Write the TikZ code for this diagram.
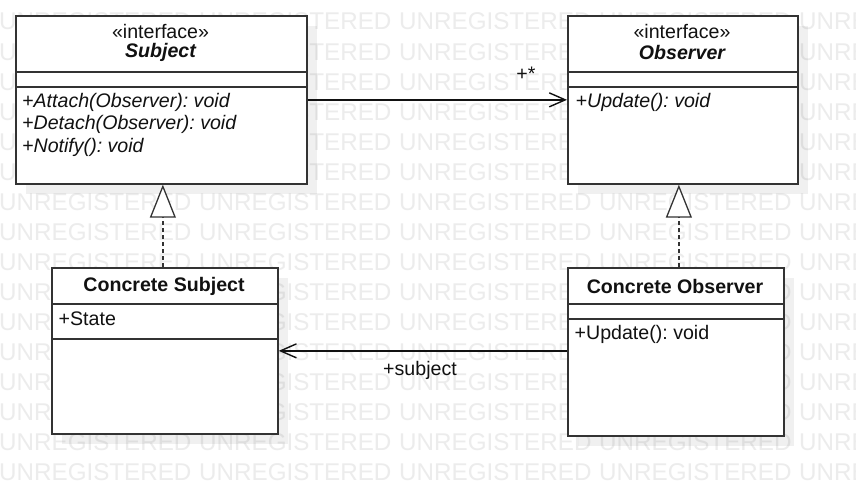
\documentclass[tikz,border=0pt]{standalone}
\usepackage{fontspec}
\setmainfont{Liberation Sans}
\usetikzlibrary{arrows.meta,shadows}
\frenchspacing
\definecolor{wmgray}{gray}{0.925}
\definecolor{edgec}{HTML}{333333}
\definecolor{txtc}{HTML}{111111}
\tikzset{
  umlbox/.style={draw=edgec, line width=1.7pt, fill=white, inner sep=0pt,
    anchor=north west,
    drop shadow={shadow xshift=10pt, shadow yshift=-10pt, fill=black, opacity=0.06}},
  divline/.style={draw=edgec, line width=1.5pt},
  umltxt/.style={inner sep=0pt, text=txtc, font=\fontsize{19.6}{22}\selectfont},
  leftxt/.style={umltxt, anchor=west},
  wmtext/.style={inner sep=0pt, anchor=base west, text=wmgray,
    font=\fontsize{24.2}{28}\selectfont},
  assoc/.style={draw=txtc, line width=1.4pt,
    -{Straight Barb[length=16pt, width=14pt, line width=1.4pt]}},
  realize/.style={draw=edgec, line width=1.4pt, dash pattern=on 4pt off 3pt,
    -{Triangle[length=33pt, width=26pt, fill=white, line width=1.3pt]}},
}
\begin{document}
\begin{tikzpicture}[x=1pt, y=-1pt]
  \clip (0,0) rectangle (856,495);
  \fill[white] (0,0) rectangle (856,495);
  % watermark
  \foreach \r in {0,...,15}{
    \foreach \c in {0,...,4}{
      \node[wmtext] (wm-\r-\c) at (200*\c-1, 30+30*\r) {UNREGISTERED};
    }
  }
  % boxes
  \node[umlbox, minimum width=291pt, minimum height=168pt] (subject) at (15,15) {};
  \node[umlbox, minimum width=230pt, minimum height=168pt] (obs) at (567,15) {};
  \node[umlbox, minimum width=226pt, minimum height=166pt] (cs) at (51,267) {};
  \node[umlbox, minimum width=216pt, minimum height=168pt] (co) at (567,267) {};
  % dividers
  \draw[divline] (subject.west |- 0,72) -- (subject.east |- 0,72);
  \draw[divline] (subject.west |- 0,87) -- (subject.east |- 0,87);
  \draw[divline] (obs.west |- 0,72) -- (obs.east |- 0,72);
  \draw[divline] (obs.west |- 0,87) -- (obs.east |- 0,87);
  \draw[divline] (cs.west |- 0,304) -- (cs.east |- 0,304);
  \draw[divline] (cs.west |- 0,339) -- (cs.east |- 0,339);
  \draw[divline] (co.west |- 0,304) -- (co.east |- 0,304);
  \draw[divline] (co.west |- 0,319) -- (co.east |- 0,319);
  % texts
  \node[umltxt] (subj-st) at (160.5,31) {«interface»};
  \node[umltxt, font=\fontsize{19.6}{22}\selectfont\bfseries\itshape] (subj-nm) at (160.5,52) {Subject};
  \node[leftxt, font=\fontsize{19.6}{22}\selectfont\itshape] (subj-m1) at (22,102) {+Attach(Observer): void};
  \node[leftxt, font=\fontsize{19.6}{22}\selectfont\itshape] (subj-m2) at (22,124) {+Detach(Observer): void};
  \node[leftxt, font=\fontsize{19.6}{22}\selectfont\itshape] (subj-m3) at (22,147) {+Notify(): void};
  \node[umltxt] (obs-st) at (682,31) {«interface»};
  \node[umltxt, font=\fontsize{19.6}{22}\selectfont\bfseries\itshape] (obs-nm) at (682,52) {Observer};
  \node[leftxt, font=\fontsize{19.6}{22}\selectfont\itshape] (obs-m1) at (575.5,102) {+Update(): void};
  \node[umltxt, font=\fontsize{19.6}{22}\selectfont\bfseries] (cs-nm) at (164,286) {Concrete Subject};
  \node[leftxt] (cs-a1) at (58.5,319) {+State};
  \node[umltxt, font=\fontsize{19.6}{22}\selectfont\bfseries] (co-nm) at (675,286) {Concrete Observer};
  \node[leftxt] (co-m1) at (574.5,334) {+Update(): void};
  % connectors
  \draw[assoc] (subject.east) -- (obs.west);
  \node[umltxt] (lbl-many) at (526,74) {+*};
  \draw[assoc] (cs.east -| co.west) -- (cs.east);
  \node[umltxt] (lbl-subj) at (420,370) {+subject};
  \draw[realize] ([xshift=-2pt]cs.north) -- ([xshift=-2pt]cs.north |- subject.south);
  \draw[realize] ([xshift=3pt]co.north) -- ([xshift=3pt]co.north |- obs.south);
\end{tikzpicture}
\end{document}
